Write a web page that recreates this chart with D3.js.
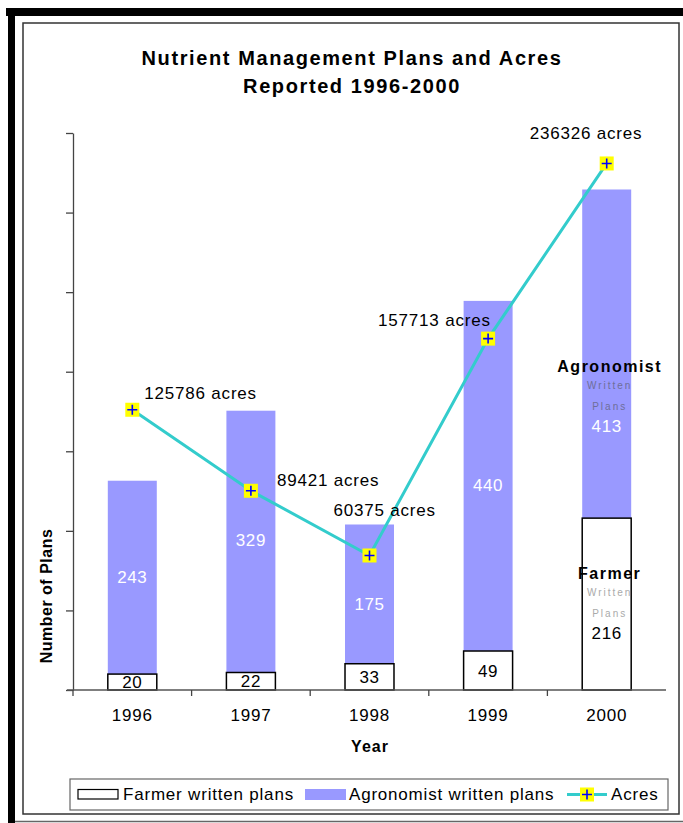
<!DOCTYPE html>
<html>
<head>
<meta charset="utf-8">
<script src="https://cdn.jsdelivr.net/npm/d3@7"></script>
<style>
  body { margin: 0; background: #fff; }
  svg { display: block; font-family: "Liberation Sans", Arial, sans-serif; }
</style>
</head>
<body>
<svg id="chart" width="683" height="823"></svg>
<script>
// Data.
const years = ['1996', '1997', '1998', '1999', '2000'];
const farmerPlans = [20, 22, 33, 49, 216];
const agronomistPlans = [243, 329, 175, 440, 413];
const acres = [125786, 89421, 60375, 157713, 236326];
const planTicks = [0, 100, 200, 300, 400, 500, 600, 700];

// Label nudges (px), as placed in the original.
const acreLabelOffsets = [[12, -11], [26, -5], [-36, -39], [-110, -13], [-77, -24]];
const agroLabelDy = [0, -2, 10, 9, 72];
const farmerLabelDy = [0, 0, 0, 0, 29];

const svg = d3.select('#chart');

// Frame: heavy black L plus thin inner border.
svg.append('rect').attr('x', 6).attr('y', 8).attr('width', 677).attr('height', 8).attr('fill', '#000');
svg.append('rect').attr('x', 8).attr('y', 8).attr('width', 7).attr('height', 815).attr('fill', '#000');
svg.append('rect').attr('x', 23).attr('y', 23).attr('width', 656).attr('height', 791)
  .attr('fill', 'none').attr('stroke', '#333').attr('stroke-width', 1.5);
svg.append('line').attr('x1', 15).attr('x2', 683).attr('y1', 821.5).attr('y2', 821.5)
  .attr('stroke', '#666').attr('stroke-width', 1.5);

const x = d3.scaleBand().domain(years).range([73, 666]).paddingInner(0.587).paddingOuter(0.2935);
const y = d3.scaleLinear().domain([0, 700]).range([690, 133]);
const yAcres = d3.scaleLinear().domain([0, 250000]).range([690, 133]);
const step = x.step();
const cx = d => x(d) + x.bandwidth() / 2;

// Title
const title = svg.append('text').attr('text-anchor', 'middle').attr('font-weight', 'bold')
  .attr('font-size', 20).attr('letter-spacing', 1.6).attr('fill', '#000');
title.append('tspan').attr('x', 352).attr('y', 65).text('Nutrient Management Plans and Acres');
title.append('tspan').attr('x', 352).attr('y', 93).text('Reported 1996-2000');

// Y axis (no labels)
svg.append('g').attr('transform', 'translate(73,0)')
  .call(d3.axisLeft(y).tickValues(planTicks).tickFormat('').tickSize(7).tickSizeOuter(0))
  .call(g => g.selectAll('line, path').attr('stroke', '#444').attr('stroke-width', 1.3));

// Bars
const bars = svg.append('g');
bars.selectAll('rect.agro').data(years).join('rect')
  .attr('class', 'agro')
  .attr('x', d => x(d))
  .attr('width', x.bandwidth())
  .attr('y', (d, i) => y(farmerPlans[i] + agronomistPlans[i]))
  .attr('height', (d, i) => y(farmerPlans[i]) - y(farmerPlans[i] + agronomistPlans[i]))
  .attr('fill', '#9999FF');
bars.selectAll('rect.farmer').data(years).join('rect')
  .attr('class', 'farmer')
  .attr('x', d => x(d))
  .attr('width', x.bandwidth())
  .attr('y', (d, i) => y(farmerPlans[i]))
  .attr('height', (d, i) => y(0) - y(farmerPlans[i]))
  .attr('fill', '#fff').attr('stroke', '#000').attr('stroke-width', 1.5);

// X axis line with boundary ticks
svg.append('line').attr('x1', 67).attr('x2', 666).attr('y1', 690).attr('y2', 690)
  .attr('stroke', '#555').attr('stroke-width', 1.5);
svg.append('g').selectAll('line').data(years).join('line')
  .attr('x1', d => x(d) - step * x.paddingInner() / 2)
  .attr('x2', d => x(d) - step * x.paddingInner() / 2)
  .attr('y1', 690).attr('y2', 696).attr('stroke', '#444').attr('stroke-width', 1.3);
svg.append('g').attr('transform', 'translate(0,690)')
  .call(d3.axisBottom(x).tickSize(0).tickPadding(19))
  .call(g => g.select('.domain').remove())
  .call(g => g.selectAll('text').attr('font-size', 17).attr('letter-spacing', 0.8)
    .attr('fill', '#000').attr('font-family', '"Liberation Sans", Arial, sans-serif'));

// Axis titles
svg.append('text').attr('x', 370).attr('y', 752).attr('text-anchor', 'middle')
  .attr('font-weight', 'bold').attr('font-size', 16).attr('letter-spacing', 1).text('Year');
svg.append('text').attr('transform', 'translate(52,596) rotate(-90)').attr('text-anchor', 'middle')
  .attr('font-weight', 'bold').attr('font-size', 16).attr('letter-spacing', 0.5).text('Number of Plans');

// Segment labels
svg.append('g').selectAll('text').data(years).join('text')
  .attr('x', d => cx(d))
  .attr('y', (d, i) => (y(farmerPlans[i]) + y(farmerPlans[i] + agronomistPlans[i])) / 2 + agroLabelDy[i] + 6)
  .attr('text-anchor', 'middle').attr('font-size', 17).attr('letter-spacing', 0.6).attr('fill', '#fff')
  .text((d, i) => agronomistPlans[i]);
svg.append('g').selectAll('text').data(years).join('text')
  .attr('x', d => cx(d))
  .attr('y', (d, i) => (y(0) + y(farmerPlans[i])) / 2 + farmerLabelDy[i] + 6)
  .attr('text-anchor', 'middle').attr('font-size', 17).attr('letter-spacing', 0.6).attr('fill', '#000')
  .text((d, i) => farmerPlans[i]);

// Annotations on the 2000 bar
const note = (lines, colors, yTop) => {
  const xc = cx('2000') + 3;
  lines.forEach((t, j) => {
    svg.append('text').attr('x', xc).attr('y', yTop[j]).attr('text-anchor', 'middle')
      .attr('font-size', j === 0 ? 16 : 10).attr('font-weight', j === 0 ? 'bold' : 'normal')
      .attr('letter-spacing', j === 0 ? 1.5 : 2).attr('fill', colors[j]).text(t);
  });
};
note(['Agronomist', 'Written', 'Plans'], ['#000', '#6e6e99', '#6e6e99'], [372, 389, 410]);
note(['Farmer', 'Written', 'Plans'], ['#000', '#aaa', '#aaa'], [579, 596, 617]);

// Acres line (secondary scale)
const line = d3.line().x(d => cx(d[0])).y(d => yAcres(d[1]));
svg.append('path').datum(years.map((d, i) => [d, acres[i]]))
  .attr('d', line).attr('fill', 'none').attr('stroke', '#33CCCC').attr('stroke-width', 3);

const marker = (g, mx, my) => {
  g.append('rect').attr('x', mx - 7).attr('y', my - 7).attr('width', 14).attr('height', 14).attr('fill', '#FFFF00');
  g.append('path').attr('d', `M${mx - 5},${my}H${mx + 5}M${mx},${my - 5}V${my + 5}`)
    .attr('stroke', '#0000FF').attr('stroke-width', 1.6);
};
const markers = svg.append('g');
years.forEach((d, i) => marker(markers, cx(d), yAcres(acres[i])));

svg.append('g').selectAll('text').data(years).join('text')
  .attr('x', (d, i) => cx(d) + acreLabelOffsets[i][0])
  .attr('y', (d, i) => yAcres(acres[i]) + acreLabelOffsets[i][1])
  .attr('font-size', 17).attr('letter-spacing', 0.8).attr('fill', '#000')
  .text((d, i) => acres[i] + ' acres');

// Legend
const lg = svg.append('g').attr('font-size', 17).attr('letter-spacing', 0.8);
lg.append('rect').attr('x', 70).attr('y', 779).attr('width', 598).attr('height', 31)
  .attr('fill', '#fff').attr('stroke', '#666').attr('stroke-width', 1.2);
lg.append('rect').attr('x', 78).attr('y', 789.5).attr('width', 40).attr('height', 9.5)
  .attr('fill', '#fff').attr('stroke', '#000').attr('stroke-width', 1.2);
lg.append('text').attr('x', 123).attr('y', 800).text('Farmer written plans');
lg.append('rect').attr('x', 305).attr('y', 789).attr('width', 41).attr('height', 11).attr('fill', '#9999FF');
lg.append('text').attr('x', 349).attr('y', 800).text('Agronomist written plans');
lg.append('line').attr('x1', 567).attr('x2', 607).attr('y1', 794.5).attr('y2', 794.5)
  .attr('stroke', '#33CCCC').attr('stroke-width', 3);
marker(lg, 587, 794.5);
lg.append('text').attr('x', 611).attr('y', 800).text('Acres');
</script>
</body>
</html>
